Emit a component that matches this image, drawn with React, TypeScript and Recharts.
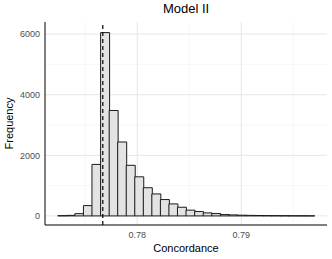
import React from "react";
import {
  ComposedChart,
  Bar,
  XAxis,
  YAxis,
  CartesianGrid,
  ReferenceLine,
  Label,
} from "recharts";

const binCenters = [
  0.77279, 0.77361, 0.77443, 0.77525, 0.77607, 0.7769, 0.77772, 0.77854,
  0.77936, 0.78018, 0.781, 0.78182, 0.78264, 0.78346, 0.78428, 0.7851,
  0.78593, 0.78675, 0.78757, 0.78839, 0.78921, 0.79003, 0.79085, 0.79167,
  0.79249, 0.79331, 0.79413, 0.79495, 0.79578, 0.7966,
];
const frequencies = [
  8, 18, 75, 340, 1700, 6050, 3480, 2440, 1670, 1290, 930, 725, 540, 396, 286,
  190, 143, 99, 77, 44, 33, 24, 18, 14, 10, 8, 6, 4, 3, 2,
];
const referenceValue = 0.7767;
const xTicks = [0.78, 0.79];
const xMinor = [0.775, 0.785, 0.795];
const yTicks = [0, 2000, 4000, 6000];
const yMinor = [1000, 3000, 5000];
const xDomain = [0.77115, 0.79823];
const yDomain = [-300, 6400];
const title = "Model II";
const xTitle = "Concordance";
const yTitle = "Frequency";

const data = binCenters.map((c, i) => ({ x: c, count: frequencies[i] }));

const FONT = "'Liberation Sans', Arial, sans-serif";

export default function App() {
  return (
    <div
      style={{
        position: "absolute",
        left: 0,
        top: 0,
        width: 332,
        height: 259,
        background: "#fff",
        fontFamily: FONT,
      }}
    >
      <div
        style={{
          position: "absolute",
          left: 45,
          width: 282,
          top: 1,
          textAlign: "center",
          fontSize: 13,
          color: "#000",
          lineHeight: "16px",
        }}
      >
        {title}
      </div>
      <ComposedChart
        width={332}
        height={259}
        data={data}
        margin={{ top: 22, right: 5, bottom: 0, left: 0 }}
        barCategoryGap={0}
        barGap={0}
        style={{ fontFamily: FONT }}
      >
        <CartesianGrid
          horizontalValues={yMinor}
          verticalValues={xMinor}
          stroke="#f1f1f1"
          strokeWidth={0.6}
        />
        <CartesianGrid
          horizontalValues={yTicks}
          verticalValues={xTicks}
          stroke="#e6e6e6"
          strokeWidth={1}
        />
        <XAxis
          dataKey="x"
          type="number"
          domain={xDomain}
          ticks={xTicks}
          allowDataOverflow
          tickFormatter={(v: number) => v.toFixed(2)}
          height={34}
          tickLine={false}
          tickSize={4}
          tickMargin={3}
          axisLine={{ stroke: "#000", strokeWidth: 1 }}
          tick={{ fontSize: 9, fill: "#4d4d4d" }}
        >
          <Label
            value={xTitle}
            position="insideBottom"
            offset={7}
            style={{ fontSize: 11, fill: "#000" }}
          />
        </XAxis>
        <YAxis
          type="number"
          domain={yDomain}
          ticks={yTicks}
          allowDataOverflow
          width={45}
          tickLine={false}
          tickSize={3}
          tickMargin={2}
          axisLine={{ stroke: "#000", strokeWidth: 1 }}
          tick={{ fontSize: 9, fill: "#4d4d4d" }}
        >
          <Label
            value={yTitle}
            angle={-90}
            position="insideLeft"
            offset={9}
            style={{ fontSize: 11, fill: "#000", textAnchor: "middle" }}
          />
        </YAxis>
        <Bar
          dataKey="count"
          fill="#e3e3e3"
          stroke="#1a1a1a"
          strokeWidth={1}
          isAnimationActive={false}
        />
        <ReferenceLine
          x={referenceValue}
          stroke="#000"
          strokeWidth={1.2}
          strokeDasharray="4 3"
        />
      </ComposedChart>
    </div>
  );
}
